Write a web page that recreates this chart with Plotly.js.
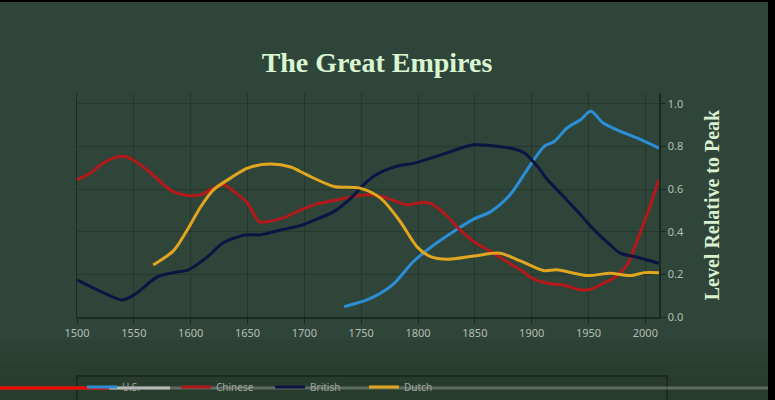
<!DOCTYPE html>
<html>
<head>
<meta charset="utf-8">
<script src="https://cdn.plot.ly/plotly-3.0.1.min.js"></script>
<style>html,body{margin:0;padding:0;background:#2f4539;}#chart{width:775px;height:400px;}</style>
</head>
<body>
<div id="chart"></div>
<script>
// ---- Data ----
const usYears      = [1735,1755,1767,1779,1796,1814,1831,1849,1864,1881,1896,1911,1920,1931,1943,1952,1963,1978,1993,2012];
const usValues     = [0.048,0.08,0.111,0.158,0.26,0.338,0.40,0.459,0.494,0.573,0.69,0.80,0.823,0.886,0.925,0.964,0.909,0.87,0.839,0.792];

const chineseYears  = [1500,1512,1521,1532,1541,1549,1565,1582,1597,1609,1620,1629,1638,1650,1660,1667,1682,1697,1711,1726,1741,1755,1770,1790,1805,1812,1826,1837,1849,1864,1878,1890,1902,1914,1928,1943,1952,1963,1972,1984,1993,2002,2012];
const chineseValues = [0.643,0.675,0.714,0.745,0.753,0.737,0.675,0.596,0.570,0.573,0.604,0.62,0.588,0.534,0.447,0.447,0.466,0.502,0.530,0.546,0.562,0.573,0.562,0.526,0.538,0.530,0.471,0.408,0.354,0.307,0.26,0.221,0.178,0.158,0.150,0.127,0.130,0.158,0.182,0.244,0.361,0.487,0.643];

const britishYears  = [1500,1521,1540,1550,1571,1585,1598,1615,1628,1648,1661,1679,1697,1711,1726,1741,1755,1767,1784,1796,1820,1849,1864,1881,1894,1905,1914,1928,1943,1955,1969,1978,1993,2012];
const britishValues = [0.174,0.119,0.08,0.103,0.189,0.208,0.221,0.283,0.346,0.385,0.385,0.408,0.429,0.459,0.494,0.557,0.635,0.678,0.71,0.72,0.76,0.807,0.803,0.792,0.768,0.706,0.643,0.565,0.479,0.408,0.338,0.299,0.28,0.252];

const dutchYears  = [1567,1585,1597,1609,1620,1635,1650,1670,1688,1702,1726,1749,1767,1784,1799,1811,1826,1849,1872,1890,1911,1922,1949,1969,1987,1999,2012];
const dutchValues = [0.244,0.311,0.408,0.518,0.596,0.651,0.698,0.717,0.703,0.667,0.612,0.604,0.557,0.45,0.33,0.283,0.271,0.286,0.299,0.263,0.217,0.221,0.194,0.205,0.194,0.208,0.208];

const seriesNames  = ["U.S.","Chinese","British","Dutch"];
const seriesColors = ["#2b8fd8","#b3181b","#0b1442","#e1a520"];
const xTickVals = [1500,1550,1600,1650,1700,1750,1800,1850,1900,1950,2000];
const yTickVals = [0,0.2,0.4,0.6,0.8,1.0];

const xs = [usYears, chineseYears, britishYears, dutchYears];
const ys = [usValues, chineseValues, britishValues, dutchValues];

const traces = seriesNames.map((n,i)=>({
  type:'scatter', mode:'lines', name:n, x:xs[i], y:ys[i],
  line:{color:seriesColors[i], width:3, shape:'spline', smoothing:0.8},
  hoverinfo:'skip'
}));

// paper-y helper for a pixel row (plot spans rows 93..317)
function py(row){ return (317-row)/224; }
function px(col){ return (col-77)/582; }

const shapes = [];
// gradual darkening of the lower band
[340,352,364,376].forEach(r=>{
  shapes.push({type:'rect', xref:'paper', yref:'paper', x0:-0.2, x1:1.25, y0:py(r), y1:py(402),
               fillcolor:'#1f2e25', opacity:0.12, line:{width:0}, layer:'below'});
});
shapes.push(
  // legend box
  {type:'rect', xref:'paper', yref:'paper', x0:0, x1:px(667), y0:py(376), y1:py(402),
   fillcolor:'rgba(0,0,0,0)', line:{color:'#18251d', width:1.5}},
  // top black edge
  {type:'rect', xref:'paper', yref:'paper', x0:-0.2, x1:1.25, y0:py(0), y1:py(2),
   fillcolor:'#000000', line:{width:0}},
  // right black band
  {type:'rect', xref:'paper', yref:'paper', x0:px(768), x1:1.25, y0:-0.5, y1:1.5,
   fillcolor:'#000000', line:{width:0}},
  // video progress bar
  {type:'rect', xref:'paper', yref:'paper', x0:px(0), x1:px(768), y0:py(386.5), y1:py(389.5),
   fillcolor:'rgba(160,165,160,0.45)', line:{width:0}},
  {type:'rect', xref:'paper', yref:'paper', x0:px(109), x1:px(170), y0:py(386.5), y1:py(389.5),
   fillcolor:'#b8bab8', line:{width:0}},
  {type:'rect', xref:'paper', yref:'paper', x0:px(0), x1:px(109), y0:py(386.5), y1:py(389.5),
   fillcolor:'#ff0000', line:{width:0}}
);

const layout = {
  width:775, height:400,
  paper_bgcolor:'#2f4539', plot_bgcolor:'#2f4539',
  margin:{l:77, r:116, t:93, b:83, autoexpand:false},
  title:{text:'The Great Empires', x:377/775, xref:'container', xanchor:'center',
         y:1-62/400, yref:'container', yanchor:'middle',
         font:{family:'Liberation Serif, serif', size:28, color:'#d9f5d2', weight:'bold'}},
  showlegend:true,
  legend:{orientation:'h', x:px(82), xanchor:'left', y:1-387/400, yref:'container', yanchor:'middle',
          bgcolor:'rgba(0,0,0,0)', borderwidth:0, entrywidth:49, entrywidthmode:'pixels',
          font:{family:'Noto Sans, sans-serif', size:10, color:'#9ea79f'}},
  xaxis:{range:[1500,2012], tickvals:xTickVals, showgrid:true, gridcolor:'#26382d', gridwidth:1,
         showline:true, linecolor:'#1b2a21', linewidth:1.5, zeroline:false,
         ticks:'outside', ticklen:5, tickcolor:'#1b2a21',
         tickfont:{family:'Noto Sans, sans-serif', size:11, color:'#b4bdb4'}},
  yaxis:{range:[0,1.05], tickvals:yTickVals, tickformat:'.1f', side:'right',
         showgrid:true, gridcolor:'#26382d', gridwidth:1, zeroline:false,
         showline:true, mirror:true, linecolor:'#1b2a21', linewidth:1.5,
         ticks:'outside', ticklen:5, tickcolor:'#1b2a21',
         tickfont:{family:'Noto Sans, sans-serif', size:11, color:'#b4bdb4'},
         title:{text:'Level Relative to Peak', standoff:22,
                font:{family:'Liberation Serif, serif', size:20, color:'#d9f0d2', weight:'bold'}}},
  shapes:shapes
};

Plotly.newPlot('chart', traces, layout, {displayModeBar:false, staticPlot:true});
</script>
</body>
</html>
